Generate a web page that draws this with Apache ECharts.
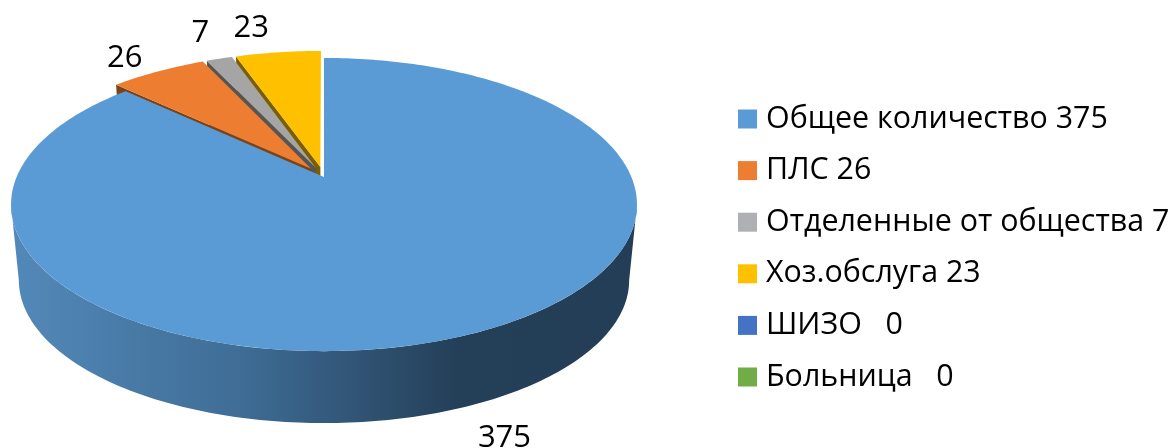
<!DOCTYPE html>
<html><head><meta charset="utf-8">
<style>html,body{margin:0;padding:0;background:#fff}#c{width:1174px;height:448px}</style>
<script src="https://cdn.jsdelivr.net/npm/echarts@6/dist/echarts.min.js"></script>
</head><body><div id="c"></div>
<script>
const categories = ['Общее количество 375','ПЛС 26','Отделенные от общества 7','Хоз.обслуга 23','ШИЗО   0','Больница   0'];
const values = [375,26,7,23,0,0];
const colors = ['#5B9BD5','#ED7D31','#A5A5A5','#FFC000','#4472C4','#70AD47'];
const legendColors = ['#5B9BD5','#ED7D31','#AFB0B3','#FFC000','#4472C4','#70AD47'];
const wallColors = ['#233D55','#7A4418','#555555','#7A5E00','#24395F','#3A5A25'];
const labelShift = [[33,104],[-33,-13],[-19,-26],[-27,-24],[0,0],[0,0]];
const seriesZ = [20,12,11,10,9,8];

const FONT = '"Open Sans"';
const G = {cx:324, cy:177, R:307.4, H:141.4, p:0.188, depth:76.3, shrink:0.025, explode:0.072};
const total = values.reduce((a,b)=>a+b,0);
const starts = []; values.reduce((s,v,i)=>(starts[i]=s,s+v),0);

function project(x,y,z){
  const w = 1+G.p*y, k = 1-z*G.shrink;
  return [G.cx+G.R*k*x/w, G.cy+z*G.depth-G.H*k*y/w];
}
function renderSlice(i){
  return function(params,api){
    const v = api.value(0);
    if(!v) return {type:'group',children:[]};
    const a0 = starts[i]/total*2*Math.PI, a1 = (starts[i]+v)/total*2*Math.PI, mid=(a0+a1)/2;
    const e = i===0?0:G.explode;
    const ox = e*Math.sin(mid), oy = e*Math.cos(mid);
    const P = (a,r,z)=>project(ox+r*Math.sin(a),oy+r*Math.cos(a),z);
    const n = Math.max(4,Math.round((a1-a0)*180/Math.PI));
    const top=[];
    for(let k=0;k<=n;k++) top.push(P(a0+(a1-a0)*k/n,1,0));
    const kids=[];
    kids.push({type:'polygon',shape:{points:[P(a0,0,0),P(a0,1,0),P(a0,1,1),P(a0,0,1)]},style:{fill:wallColors[i]}});
    // outer wall: only the part of the rim that faces the viewer (between the ellipse's side tangents)
    const t0 = Math.max(a0,Math.acos(-G.p)), t1 = Math.min(a1,2*Math.PI-Math.acos(-G.p));
    if(t1>t0){
      const m=Math.max(4,Math.round((t1-t0)*180/Math.PI)), up=[], down=[];
      for(let k=0;k<=m;k++){const a=t0+(t1-t0)*k/m; up.push(P(a,1,0)); down.unshift(P(a,1,1));}
      const wallFill = i===0 ? {type:'linear',x:18,y:0,x2:630,y2:0,global:true,colorStops:[
        {offset:0,color:'#5288B8'},{offset:0.36,color:'#3F6D96'},{offset:0.72,color:'#243F58'},{offset:1,color:'#233E56'}]} : wallColors[i];
      kids.push({type:'polygon',shape:{points:up.concat(down)},style:{fill:wallFill}});
    }
    kids.push({type:'polygon',shape:{points:[P(a0,0,0)].concat(top)},style:{fill:colors[i]}});
    const anchor = P(mid,1,0);
    kids.push({type:'text',style:{text:String(v),x:anchor[0]+labelShift[i][0],y:anchor[1]+labelShift[i][1],
      fill:'#000',fontSize:31,fontFamily:FONT,align:'center',verticalAlign:'middle'}});
    return {type:'group',children:kids};
  };
}
const chart = echarts.init(document.getElementById('c'),null,{renderer:'canvas'});
chart.setOption({
  animation:false,
  legend:{
    show:true, left:738, top:98, orient:'vertical', icon:'rect', itemWidth:19, itemHeight:19,
    itemGap:9.6, selectedMode:false, data:categories,
    textStyle:{color:'#000',fontSize:30.4,fontFamily:FONT,lineHeight:42,padding:[0,0,0,4]}, padding:0
  },
  series: categories.map((name,i)=>({
    type:'custom', name, coordinateSystem:'none', silent:true,
    z: seriesZ[i],
    itemStyle:{color:legendColors[i]},
    renderItem:renderSlice(i),
    data:[[values[i]]]
  }))
});
</script></body></html>
